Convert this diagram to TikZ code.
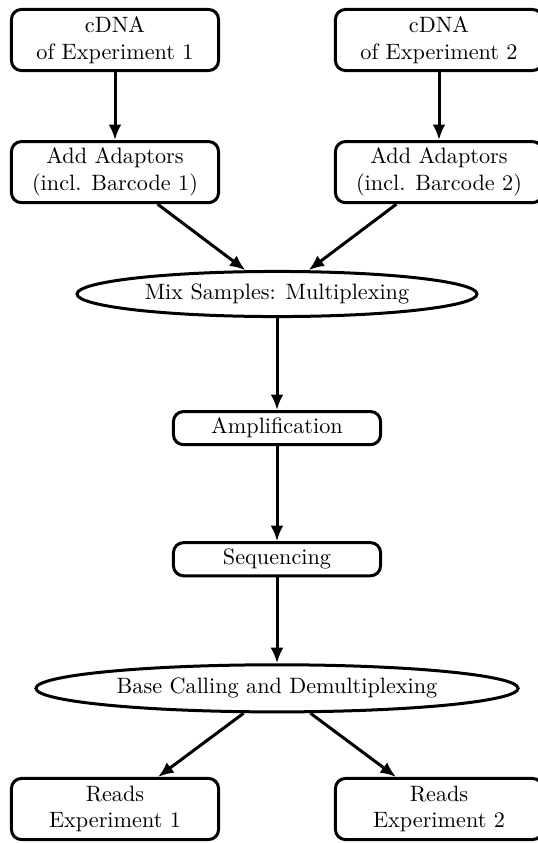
\documentclass[tikz,border=0pt]{standalone}
\usepackage{tikz}
\usetikzlibrary{
  arrows.meta,
  shapes.geometric,
  positioning
}
\tikzset{
  sqnode/.style={
    draw, rounded corners=4.5pt, line width=1.35pt, minimum width=93.2pt,
    align=center, inner sep=2pt
  },
  sample/.style={sqnode, minimum height=27.5pt},
  stage/.style={sqnode, minimum height=14.9pt},
  pool/.style={draw, ellipse, line width=1.35pt, inner sep=0pt, align=center},
  flow/.style={-{Latex[length=7pt, width=5.8pt]}, line width=1.35pt}
}

\begin{document}
\begin{tikzpicture}[x=0.45pt, y=-0.45pt]
  \useasboundingbox (0,0) rectangle (538,843);
  % two samples
  \node[sample] (cdna1) at (115,40) {cDNA\\of Experiment 1};
  \node[sample] (cdna2) at (439,40) {cDNA\\of Experiment 2};
  \node[sample, below=30.6pt of cdna1] (add1) {Add Adaptors\\(incl. Barcode 1)};
  \node[sample, below=30.6pt of cdna2] (add2) {Add Adaptors\\(incl. Barcode 2)};
  % pooled part
  \node[pool, minimum width=180pt, minimum height=20.3pt] (mix) at (277,294) {Mix Samples: Multiplexing};
  \node[stage, below=41.4pt of mix] (amp) {Amplification};
  \node[stage, below=42.75pt of amp] (seq) {Sequencing};
  \node[pool, minimum width=217pt, minimum height=21.2pt, below=38.7pt of seq] (demux) {Base Calling and Demultiplexing};
  \node[sample] (reads1) at (115,809) {Reads\\Experiment 1};
  \node[sample] (reads2) at (439,809) {Reads\\Experiment 2};
  \draw[flow] (cdna1) -- (add1);
  \draw[flow] (cdna2) -- (add2);
  \draw[flow] (add1) -- (mix);
  \draw[flow] (add2) -- (mix);
  \draw[flow] (mix) -- (amp);
  \draw[flow] (amp) -- (seq);
  \draw[flow] (seq) -- (demux);
  \draw[flow] (demux) -- (reads1);
  \draw[flow] (demux) -- (reads2);
\end{tikzpicture}
\end{document}
